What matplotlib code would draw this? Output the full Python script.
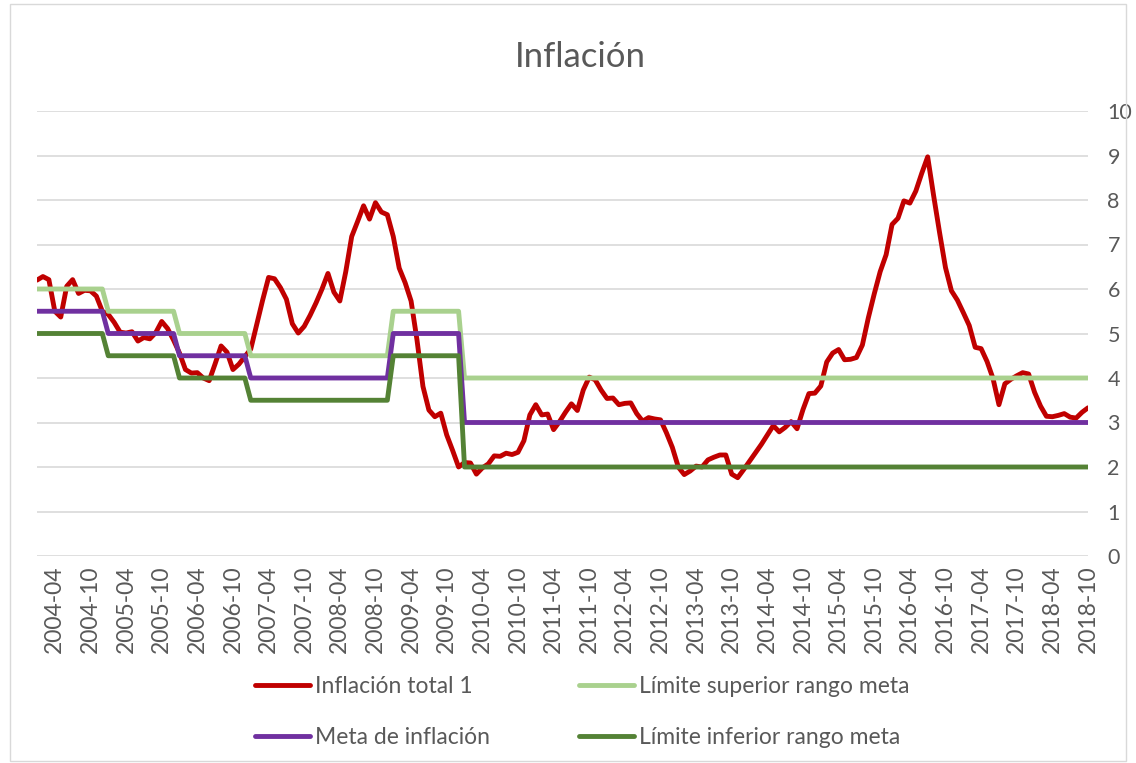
import matplotlib.pyplot as plt
from matplotlib.patches import Rectangle

plt.rcParams['font.family'] = ['Lato', 'DejaVu Sans']

# inflación anual total, mensual 2004-01 .. 2018-10
inflacion = [
    6.20, 6.28, 6.21, 5.50, 5.37, 6.06, 6.21, 5.90, 5.97, 5.96, 5.84, 5.50,   # 2004
    5.43, 5.25, 5.03, 5.01, 5.04, 4.83, 4.91, 4.88, 5.02, 5.27, 5.11, 4.85,   # 2005
    4.56, 4.19, 4.11, 4.12, 4.00, 3.94, 4.32, 4.72, 4.58, 4.19, 4.31, 4.48,   # 2006
    4.65, 5.20, 5.75, 6.26, 6.23, 6.03, 5.77, 5.22, 5.01, 5.16, 5.41, 5.69,   # 2007
    6.00, 6.35, 5.93, 5.73, 6.39, 7.18, 7.52, 7.87, 7.57, 7.94, 7.73, 7.67,   # 2008
    7.18, 6.47, 6.14, 5.73, 4.85, 3.81, 3.28, 3.13, 3.21, 2.72, 2.37, 2.00,   # 2009
    2.10, 2.09, 1.84, 1.98, 2.07, 2.25, 2.24, 2.31, 2.28, 2.33, 2.59, 3.17,   # 2010
    3.40, 3.17, 3.19, 2.84, 3.02, 3.23, 3.42, 3.27, 3.73, 4.02, 3.96, 3.73,   # 2011
    3.54, 3.55, 3.40, 3.43, 3.44, 3.20, 3.03, 3.11, 3.08, 3.06, 2.77, 2.44,   # 2012
    2.00, 1.83, 1.91, 2.02, 2.00, 2.16, 2.22, 2.27, 2.27, 1.84, 1.76, 1.94,   # 2013
    2.13, 2.32, 2.51, 2.72, 2.93, 2.79, 2.89, 3.02, 2.86, 3.29, 3.65, 3.66,   # 2014
    3.82, 4.36, 4.56, 4.64, 4.41, 4.42, 4.46, 4.74, 5.35, 5.89, 6.39, 6.77,   # 2015
    7.45, 7.59, 7.98, 7.93, 8.20, 8.60, 8.97, 8.10, 7.27, 6.48, 5.96, 5.75,   # 2016
    5.47, 5.18, 4.69, 4.66, 4.37, 3.99, 3.40, 3.87, 3.97, 4.05, 4.12, 4.09,   # 2017
    3.68, 3.37, 3.14, 3.13, 3.16, 3.20, 3.12, 3.10, 3.23, 3.33,               # 2018
]

# meta anual y rango
anios = list(range(2004, 2019))
meta_anual = [5.5, 5.0, 4.5, 4.0, 4.0, 5.0, 3, 3, 3, 3, 3, 3, 3, 3, 3]
sup_anual = [6.0, 5.5, 5.0, 4.5, 4.5, 5.5, 4, 4, 4, 4, 4, 4, 4, 4, 4]
inf_anual = [5.0, 4.5, 4.0, 3.5, 3.5, 4.5, 2, 2, 2, 2, 2, 2, 2, 2, 2]

fechas = [f"{a}-{m:02d}" for a in anios for m in range(1, 13)][:len(inflacion)]
meta = [meta_anual[anios.index(int(f[:4]))] for f in fechas]
lim_sup = [sup_anual[anios.index(int(f[:4]))] for f in fechas]
lim_inf = [inf_anual[anios.index(int(f[:4]))] for f in fechas]
x = list(range(len(fechas)))

etiquetas = [f for f in fechas if f[5:] in ("04", "10")]
pos_etiquetas = [fechas.index(f) for f in etiquetas]

fig = plt.figure(figsize=(11.36, 7.63), dpi=100)
ax = fig.add_axes([37 / 1136, 1 - 556 / 763, (1088 - 37) / 1136, (556 - 111) / 763])

lw = 3.5
ax.plot(x, inflacion, color="#C00000", lw=lw, label="Inflación total 1", solid_capstyle="round")
ax.plot(x, lim_sup, color="#A9D18E", lw=lw, label="Límite superior rango meta", solid_capstyle="round")
ax.plot(x, meta, color="#7030A0", lw=lw, label="Meta de inflación", solid_capstyle="round")
ax.plot(x, lim_inf, color="#548235", lw=lw, label="Límite inferior rango meta", solid_capstyle="round")

ax.set_xlim(0, len(x) - 1)
ax.set_ylim(0, 10)
ax.set_yticks(range(0, 11))
ax.yaxis.tick_right()
ax.grid(axis="y", color="#D9D9D9", lw=1.2)
ax.set_axisbelow(True)
for s in ax.spines.values():
    s.set_visible(False)
ax.set_xticks(pos_etiquetas)
ax.set_xticklabels(etiquetas, rotation=90)
ax.tick_params(axis="x", length=0, pad=7, labelsize=16.5, labelcolor="#595959")
ax.tick_params(axis="y", length=0, pad=14, labelsize=15.5, labelcolor="#595959")

fig.text(580 / 1136, 1 - 57 / 763, "Inflación", ha="center", va="center",
         fontsize=25, color="#595959")

h, l = ax.get_legend_handles_labels()
orden = [0, 2, 1, 3]
fig.legend([h[i] for i in orden], [l[i] for i in orden], ncol=2, loc="center",
           bbox_to_anchor=(582 / 1136, 1 - 712 / 763), frameon=False,
           fontsize=16.5, labelcolor="#595959", handlelength=2.4, handletextpad=0.2,
           columnspacing=3.9, labelspacing=1.3)

fig.patches.append(Rectangle((10 / 1136, 2 / 763), 1116 / 1136, 757 / 763,
                             transform=fig.transFigure, fill=False,
                             edgecolor="#D9D9D9", lw=1))

fig.savefig("out.png", dpi=100)
